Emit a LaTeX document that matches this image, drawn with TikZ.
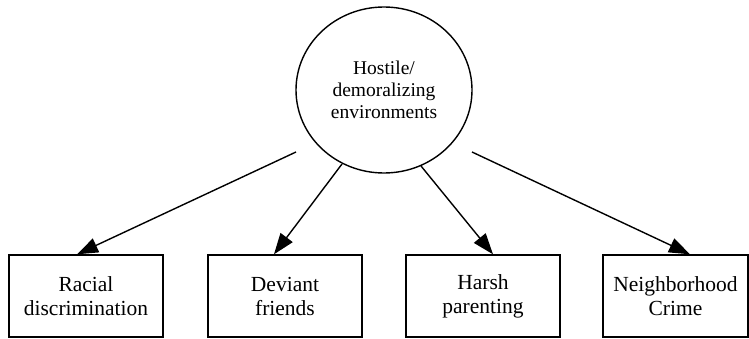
\documentclass[tikz,border=0pt]{standalone}
\usepackage{fontspec}
\setmainfont{Liberation Serif}
\usetikzlibrary{arrows.meta,shapes.geometric}
\begin{document}
\begin{tikzpicture}[x=1pt,y=-1pt,
  every path/.style={line width=1.4pt},
  hub/.style={draw,ellipse,inner sep=0pt,minimum width=176pt,minimum height=166pt,
    align=center,font=\fontsize{19.5}{22}\selectfont},
  factor/.style={draw,rectangle,inner sep=0pt,minimum width=154pt,minimum height=82pt,
    align=center,font=\fontsize{21.5}{24}\selectfont},
  link/.style={-{Triangle[length=21pt,width=15pt]},line width=1.4pt}]
  \useasboundingbox (0,0) rectangle (749,339);

  % central construct
  \node[hub] (env) at (384,90) {Hostile/\\demoralizing\\environments};

  % outcome boxes
  \node[factor] (b1) at (86,296) {Racial\\discrimination};
  \node[factor] (b2) at (285,296) {Deviant\\friends};
  \node[factor] (b3) at (483,296) {Harsh\\parenting};
  \node[factor,minimum width=145pt] (b4) at (675.5,296) {Neighborhood\\Crime};

  % arrow origins below the circle
  \coordinate (s1) at (296,152);
  \coordinate (s2) at (342,164);
  \coordinate (s3) at (421,166);
  \coordinate (s4) at (472,152);

  \draw[link] (s1) -- ([xshift=-9pt]b1.north);
  \draw[link] (s2) -- ([xshift=-11pt]b2.north);
  \draw[link] (s3) -- ([xshift=10pt]b3.north);
  \draw[link] (s4) -- ([xshift=14.5pt]b4.north);
\end{tikzpicture}
\end{document}
